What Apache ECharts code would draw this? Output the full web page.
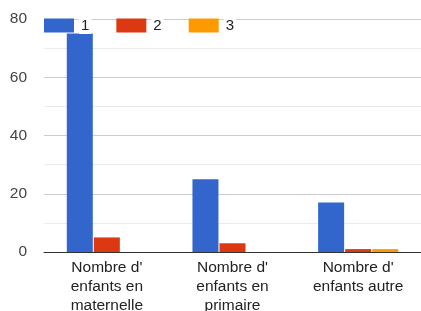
<!DOCTYPE html>
<html>
<head>
<meta charset="utf-8">
<script src="https://cdn.jsdelivr.net/npm/echarts@6/dist/echarts.min.js"></script>
<style>
html, body { margin: 0; padding: 0; background: #fff; }
#main { width: 421px; height: 311px; }
</style>
</head>
<body>
<div id="main"></div>
<script>
var categories = ["Nombre d'\nenfants en\nmaternelle", "Nombre d'\nenfants en\nprimaire", "Nombre d'\nenfants autre"];
var seriesNames = ['1', '2', '3'];
var values1 = [75, 25, 17];
var values2 = [5, 3, 1];
var values3 = [0, 0, 1];
var colors = ['#3366cc', '#dc3912', '#ff9900'];

var chart = echarts.init(document.getElementById('main'));
var font = 'Liberation Sans, Arial, sans-serif';
var option = {
    color: colors,
    animation: false,
    textStyle: { fontFamily: font },
    legend: {
        data: seriesNames,
        left: 39,
        top: 12,
        icon: 'rect',
        itemWidth: 30,
        itemHeight: 14,
        itemGap: 25,
        textStyle: { fontSize: 15, color: '#222', backgroundColor: '#fff', padding: [1, 2], fontFamily: font }
    },
    grid: { left: 44, right: 0, top: 19, bottom: 59, outerBoundsMode: 'none' },
    xAxis: {
        type: 'category',
        data: categories,
        axisTick: { show: false },
        axisLine: { lineStyle: { color: '#333', width: 1 } },
        axisLabel: { fontSize: 15.5, color: '#222', lineHeight: 19, margin: 6, interval: 0, fontFamily: font }
    },
    yAxis: {
        type: 'value',
        min: 0,
        max: 80,
        interval: 20,
        axisLabel: { fontSize: 15.5, color: '#444', margin: 17, fontFamily: font },
        splitLine: { lineStyle: { color: '#cccccc' } },
        minorTick: { show: false, splitNumber: 2 },
        minorSplitLine: { show: true, lineStyle: { color: '#ebebeb' } }
    },
    series: [
        { name: seriesNames[0], type: 'bar', data: values1, barWidth: 26, barGap: '4%' },
        { name: seriesNames[1], type: 'bar', data: values2, barWidth: 26, barGap: '4%' },
        { name: seriesNames[2], type: 'bar', data: values3, barWidth: 26, barGap: '4%' }
    ]
};
chart.setOption(option);
</script>
</body>
</html>
